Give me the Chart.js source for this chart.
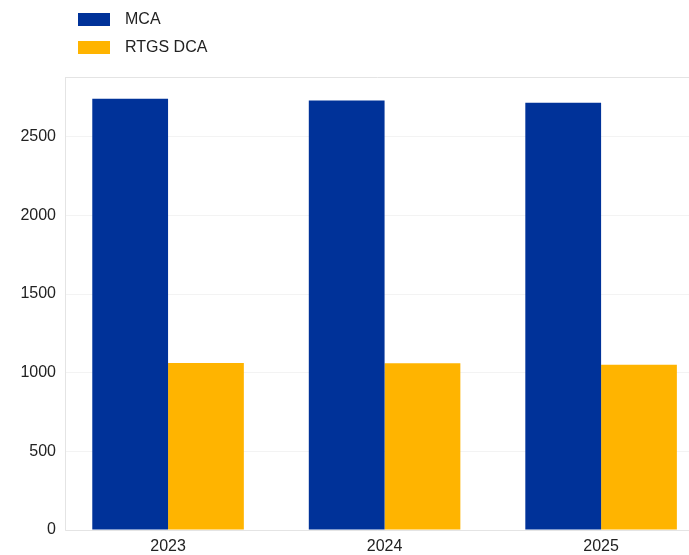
<!DOCTYPE html>
<html>
<head>
<meta charset="utf-8">
<script src="https://cdn.jsdelivr.net/npm/chart.js@4.4.1/dist/chart.umd.min.js"></script>
<style>
  html, body { margin: 0; padding: 0; background: #fff; }
  #wrap { position: relative; width: 689px; height: 555px; }
  #legend { position: absolute; left: 78px; top: 5px; font-family: "Liberation Sans", Arial, sans-serif; font-size: 16px; color: #222; }
  .lg-item { display: flex; align-items: center; height: 28px; }
  .lg-box { width: 32px; height: 13px; margin-right: 15px; }
</style>
</head>
<body>
<div id="wrap">
  <canvas id="chart" width="689" height="555"></canvas>
  <div id="legend"></div>
</div>
<script>
// data
const years = [2023, 2024, 2025];
const mca = [2742, 2731, 2716];
const rtgsDca = [1061, 1060, 1051];
const yTicks = [0, 500, 1000, 1500, 2000, 2500];

const BLUE = '#003299';
const YELLOW = '#FFB400';
const FONT = '"Liberation Sans", Arial, sans-serif';

// light frame on left, top and bottom of the plot area
const framePlugin = {
  id: 'frame',
  afterDraw(chart) {
    const { ctx, chartArea: a } = chart;
    ctx.save();
    ctx.strokeStyle = '#e4e4e4';
    ctx.lineWidth = 1;
    ctx.beginPath();
    ctx.moveTo(a.left + 0.5, a.top + 0.5);
    ctx.lineTo(a.right, a.top + 0.5);
    ctx.moveTo(a.left + 0.5, a.top);
    ctx.lineTo(a.left + 0.5, a.bottom + 0.5);
    ctx.lineTo(a.right, a.bottom + 0.5);
    ctx.stroke();
    ctx.restore();
  }
};

const chart = new Chart(document.getElementById('chart'), {
  type: 'bar',
  data: {
    datasets: [
      { label: 'MCA', data: years.map((y, i) => ({ x: y, y: mca[i] })), backgroundColor: BLUE },
      { label: 'RTGS DCA', data: years.map((y, i) => ({ x: y, y: rtgsDca[i] })), backgroundColor: YELLOW },
    ],
  },
  options: {
    responsive: false,
    animation: false,
    layout: { padding: { top: 77, left: 0, right: 0, bottom: 0 } },
    datasets: { bar: { categoryPercentage: 0.7, barPercentage: 1.0, borderWidth: 0 } },
    plugins: { legend: { display: false }, tooltip: { enabled: false } },
    scales: {
      x: {
        type: 'linear',
        offset: false,
        min: 2022.524,
        max: 2025.406,
        afterFit: s => { s.height = 25; },
        afterBuildTicks: s => { s.ticks = years.map(v => ({ value: v })); },
        grid: { display: false, drawTicks: false, offset: false },
        border: { display: false },
        ticks: {
          padding: 7,
          color: '#222',
          font: { family: FONT, size: 16 },
          callback: v => String(v),
        },
      },
      y: {
        min: 0,
        max: 2880,
        afterFit: s => { s.width = 65; },
        afterBuildTicks: s => { s.ticks = yTicks.map(v => ({ value: v })); },
        grid: { color: '#f3f3f3', drawTicks: false },
        border: { display: false },
        ticks: {
          padding: 9,
          color: '#222',
          font: { family: FONT, size: 16 },
          callback: v => String(v),
        },
      },
    },
  },
  plugins: [framePlugin],
});

// vertical legend, built from the chart's datasets
const legend = document.getElementById('legend');
chart.data.datasets.forEach(ds => {
  const row = document.createElement('div');
  row.className = 'lg-item';
  row.innerHTML = `<span class="lg-box" style="background:${ds.backgroundColor}"></span><span>${ds.label}</span>`;
  legend.appendChild(row);
});
</script>
</body>
</html>
